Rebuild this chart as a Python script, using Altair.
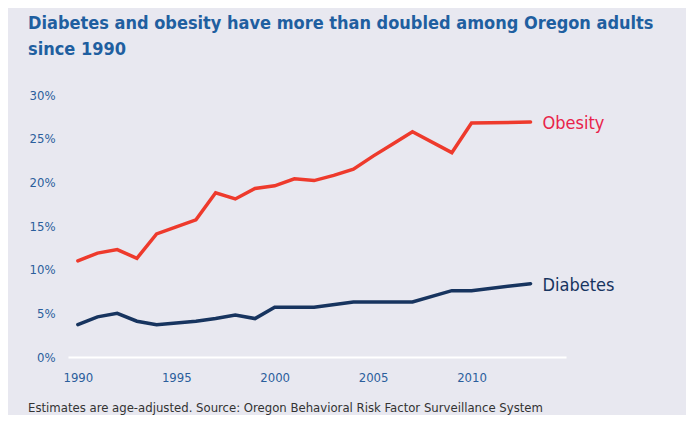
import altair as alt
import pandas as pd

ob_years = [1990, 1991, 1992, 1993, 1994, 1995, 1996, 1997, 1998, 1999, 2000, 2001, 2002, 2003, 2004, 2005, 2006, 2007, 2009, 2010, 2013]
ob_vals = [11.0, 11.9, 12.3, 11.3, 14.1, 14.9, 15.7, 18.8, 18.1, 19.3, 19.6, 20.4, 20.2, 20.8, 21.5, 23.0, 24.4, 25.8, 23.4, 26.8, 26.9]

db_years = [1990, 1991, 1992, 1993, 1994, 1995, 1996, 1997, 1998, 1999, 2000, 2002, 2004, 2007, 2009, 2010, 2013]
db_vals = [3.7, 4.6, 5.0, 4.1, 3.7, 3.9, 4.1, 4.4, 4.8, 4.4, 5.7, 5.7, 6.3, 6.3, 7.6, 7.6, 8.4]

y_ticks = [0, 5, 10, 15, 20, 25, 30]
x_ticks = [1990, 1995, 2000, 2005, 2010]

series = ["Obesity", "Diabetes"]
colors = ["#EE3A2C", "#17345F"]
label_colors = ["#E8234A", "#17345F"]

title_lines = ["Diabetes and obesity have more than doubled among Oregon adults", "since 1990"]
footnote = "Estimates are age-adjusted. Source: Oregon Behavioral Risk Factor Surveillance System"

df = pd.concat([
    pd.DataFrame({"year": ob_years, "value": ob_vals, "series": "Obesity"}),
    pd.DataFrame({"year": db_years, "value": db_vals, "series": "Diabetes"}),
])
last = df.sort_values("year").groupby("series").tail(1)

FONT = "DejaVu Sans Condensed, Roboto, sans-serif"

x = alt.X("year:Q", scale=alt.Scale(domain=[1989.5, 2014.8], nice=False, zero=False),
          axis=alt.Axis(values=x_ticks, format="d", title=None, grid=False, ticks=False,
                        domainColor="white", domainWidth=2, labelPadding=14,
                        labelColor="#2B5E9C", labelFontSize=13, labelFont=FONT))
y = alt.Y("value:Q", scale=alt.Scale(domain=[0, 30], nice=False),
          axis=alt.Axis(values=y_ticks, labelExpr="datum.value + '%'", title=None, grid=False,
                        ticks=False, domain=False, labelPadding=13,
                        labelColor="#2B5E9C", labelFontSize=13, labelFont=FONT))

lines = alt.Chart(df).mark_line(strokeWidth=3.5, strokeCap="round", strokeJoin="miter").encode(
    x=x, y=y,
    color=alt.Color("series:N", scale=alt.Scale(domain=series, range=colors), legend=None),
    detail="series:N",
)

labels = alt.Chart(last).mark_text(align="left", dx=12, dy=2, fontSize=18, font=FONT, baseline="middle").encode(
    x="year:Q", y="value:Q", text="series:N",
    color=alt.Color("series:N", scale=alt.Scale(domain=series, range=label_colors), legend=None),
)

foot = alt.Chart(pd.DataFrame({"t": [footnote]})).mark_text(
    align="left", baseline="middle", fontSize=13, font=FONT, color="#333333"
).encode(x=alt.value(-40), y=alt.value(313), text="t:N")

chart = alt.layer(lines, labels, foot).resolve_scale(color="independent").properties(
    width=498, height=262,
    title=alt.TitleParams(title_lines, anchor="start", frame="group", dx=-40, offset=30,
                          fontSize=18, font=FONT, fontWeight="bold", color="#1F5FA0", lineHeight=26),
    autosize=alt.AutoSizeParams(type="none"),
    padding={"left": 60, "top": 87, "right": 120, "bottom": 58},
    background="#E8E8F0",
).configure_view(stroke=None)

chart.save("out.html", embed_options={"renderer": "svg", "actions": False})
